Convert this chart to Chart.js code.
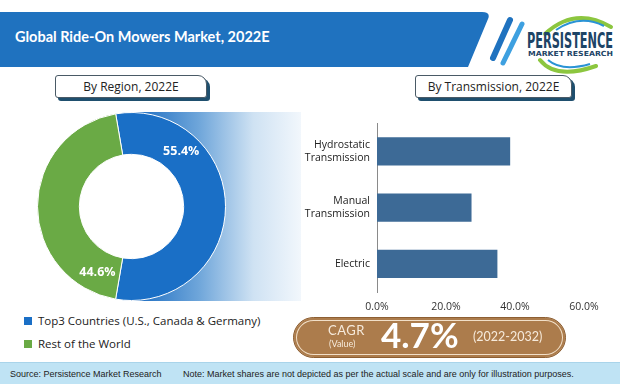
<!DOCTYPE html>
<html>
<head>
<meta charset="utf-8">
<script src="https://cdn.jsdelivr.net/npm/chart.js@4/dist/chart.umd.min.js"></script>
<style>
  body { margin:0; width:620px; height:384px; background:#fff; overflow:hidden; position:relative; font-family:"Liberation Sans", Arial, sans-serif; }
  .abs { position:absolute; }
  .title { left:15px; top:28px; color:#fff; font:bold 14.5px Lato, "DejaVu Sans", sans-serif; }
  .tag { height:21px; background:#fff; border:1px solid #4a5a66; border-radius:3px 9px 3px 3px;
         box-shadow:3px 3px 0 #1f4f6e; font:12px "Open Sans", sans-serif; color:#222; text-align:center; line-height:21px; }
  .grad { left:131px; top:112px; width:170px; height:189px; background:linear-gradient(to right,#1769c0 0%,#6fa6da 40%,#cfe2f3 72%,#f2f7fc 100%); }
  .legend { left:24px; font:11.5px "Open Sans", sans-serif; color:#222; }
  .legend span { display:inline-block; width:8px; height:8px; margin-right:6px; }
  .cagr { left:293px; top:317px; width:271px; height:39px; background:#ac7c4c; border:1px solid #8d5f33; border-radius:21px;
          box-shadow: inset 0 0 0 2px #ac7c4c, inset 0 0 0 3px #f1dfc8; color:#fff; }
  .foot { left:0; top:362px; width:620px; height:22px; background:#bfe3f4; border-top:1px solid #a9d4ea; font:9px "Liberation Sans", Arial, sans-serif; color:#222; line-height:22px; }
</style>
</head>
<body>
<svg class="abs" style="left:0;top:0" width="620" height="80">
  <path d="M0,12 H482 Q491,12 488,19 L468,67 H0 Z" fill="#1f72bf"/>
  <line x1="510" y1="20" x2="493" y2="58" stroke="#1f72bf" stroke-width="6" stroke-linecap="round"/>
  <line x1="522" y1="24" x2="503" y2="63" stroke="#3ea0e0" stroke-width="5" stroke-linecap="round"/>
  <path d="M545,34 Q575,6 611,27" fill="none" stroke="#8cc63f" stroke-width="4" stroke-linecap="round"/>
  <path d="M556,30 Q580,14 604,26" fill="none" stroke="#2a93d5" stroke-width="2"/>
  <text x="527" y="48" textLength="86" lengthAdjust="spacingAndGlyphs" font-family="DejaVu Sans Condensed, DejaVu Sans" font-weight="bold" font-size="22" fill="#1d4466">PERSISTENCE</text>
  <text x="528" y="56" textLength="85" lengthAdjust="spacingAndGlyphs" font-family="DejaVu Sans" font-weight="bold" font-size="7" fill="#1d4466">MARKET RESEARCH</text>
  <path d="M540,60 Q556,80 596,66" fill="none" stroke="#8cc63f" stroke-width="4" stroke-linecap="round"/>
  <path d="M548,60 Q562,72 590,64" fill="none" stroke="#2a93d5" stroke-width="2"/>
</svg>
<div class="abs title">Global Ride-On Mowers Market, 2022E</div>
<div class="abs tag" style="left:55px;top:75px;width:150px;">By Region, 2022E</div>
<div class="abs tag" style="left:415px;top:75px;width:155px;">By Transmission, 2022E</div>
<div class="abs grad"></div>
<canvas id="donut" class="abs" style="left:0;top:107px;width:263px;height:199px"></canvas>
<canvas id="bars" class="abs" style="left:290px;top:110px;width:330px;height:210px"></canvas>
<div id="legend"></div>
<div class="abs cagr">
  <div class="abs" style="left:34px;top:4px;font:13px Lato, sans-serif;letter-spacing:0.5px;color:#f6eadb">CAGR</div>
  <div class="abs" style="left:35px;top:20px;font:9px Lato, sans-serif;color:#f6eadb">(Value)</div>
  <div class="abs" style="left:87px;top:-5px;font:bold 35px Lato, sans-serif;">4.7%</div>
  <div class="abs" style="left:179px;top:11px;font:12.5px Lato, sans-serif;color:#f6eadb">(2022-2032)</div>
</div>
<div class="abs foot">
  <span class="abs" style="left:10px">Source: Persistence Market Research</span>
  <span class="abs" style="left:183px">Note: Market shares are not depicted as per the actual scale and are only for illustration purposes.</span>
</div>
<script>
const regionLabels = ["Top3 Countries (U.S., Canada & Germany)", "Rest of the World"];
const regionShares = [55.4, 44.6];
const regionColors = ["#1a6fc6", "#6aaa45"];

const transLabels = [["Hydrostatic", "Transmission"], ["Manual", "Transmission"], "Electric"];
const transShares = [38.6, 27.4, 34.9];
const xTicks = [0, 20, 40, 60];

Chart.defaults.font.family = '"Open Sans", "Liberation Sans", sans-serif';
Chart.defaults.animation = false;

// legend in html, rows from the labels
const lg = document.getElementById("legend");
regionLabels.forEach((l, i) => {
  const d = document.createElement("div");
  d.className = "abs legend";
  d.style.top = (313 + i * 23) + "px";
  d.innerHTML = `<span style="background:${regionColors[i]}"></span>${l}`;
  lg.appendChild(d);
});

// white hole so the gradient behind doesn't show through
const holeFill = {
  id: "holeFill",
  beforeDatasetsDraw(chart) {
    const arc = chart.getDatasetMeta(0).data[0];
    const ctx = chart.ctx;
    ctx.save();
    ctx.fillStyle = "#fff";
    ctx.beginPath();
    ctx.arc(arc.x, arc.y, arc.innerRadius, 0, Math.PI * 2);
    ctx.fill();
    ctx.restore();
  }
};

const sliceLabels = {
  id: "sliceLabels",
  afterDatasetsDraw(chart) {
    const ctx = chart.ctx;
    const fracs = [0.26, 0.11];
    chart.getDatasetMeta(0).data.forEach((arc, i) => {
      const a = arc.startAngle + (arc.endAngle - arc.startAngle) * fracs[i];
      const r = (arc.innerRadius + arc.outerRadius) / 2 + 1;
      ctx.save();
      ctx.fillStyle = "#fff";
      ctx.font = 'bold 12.5px "Open Sans", sans-serif';
      ctx.textAlign = "center";
      ctx.textBaseline = "middle";
      ctx.fillText(regionShares[i].toFixed(1) + "%", arc.x + Math.cos(a) * r, arc.y + Math.sin(a) * r);
      ctx.restore();
    });
  }
};

new Chart(document.getElementById("donut"), {
  type: "doughnut",
  data: {
    labels: regionLabels,
    datasets: [{ data: regionShares, backgroundColor: regionColors, borderColor: "#fff", borderWidth: 1 }]
  },
  options: {
    responsive: false,
    cutout: "55.5%",
    rotation: -9.7,
    layout: { padding: 5 },
    plugins: { legend: { display: false }, tooltip: { enabled: false } }
  },
  plugins: [holeFill, sliceLabels]
});

new Chart(document.getElementById("bars"), {
  type: "bar",
  data: {
    labels: transLabels,
    datasets: [{ data: transShares, backgroundColor: "#3d6a96", categoryPercentage: 1, barPercentage: 0.5 }]
  },
  options: {
    responsive: false,
    indexAxis: "y",
    layout: { padding: { top: 5, right: 36 } },
    plugins: { legend: { display: false }, tooltip: { enabled: false } },
    scales: {
      x: {
        min: xTicks[0], max: xTicks[xTicks.length - 1],
        afterBuildTicks: (s) => { s.ticks = xTicks.map(v => ({ value: v })); },
        grid: { display: false, drawTicks: false },
        border: { display: false },
        ticks: { padding: 9, color: "#333", font: { size: 10.5 }, callback: (v) => v.toFixed(1) + "%" },
        afterFit: (s) => { s.height = 28; }
      },
      y: {
        grid: { display: false, drawTicks: false },
        border: { display: true, color: "#8a8a8a", width: 1 },
        ticks: { padding: 7, color: "#222", font: { size: 10.5 } },
        afterFit: (s) => { s.width = 87; }
      }
    }
  }
});
</script>
</body>
</html>
